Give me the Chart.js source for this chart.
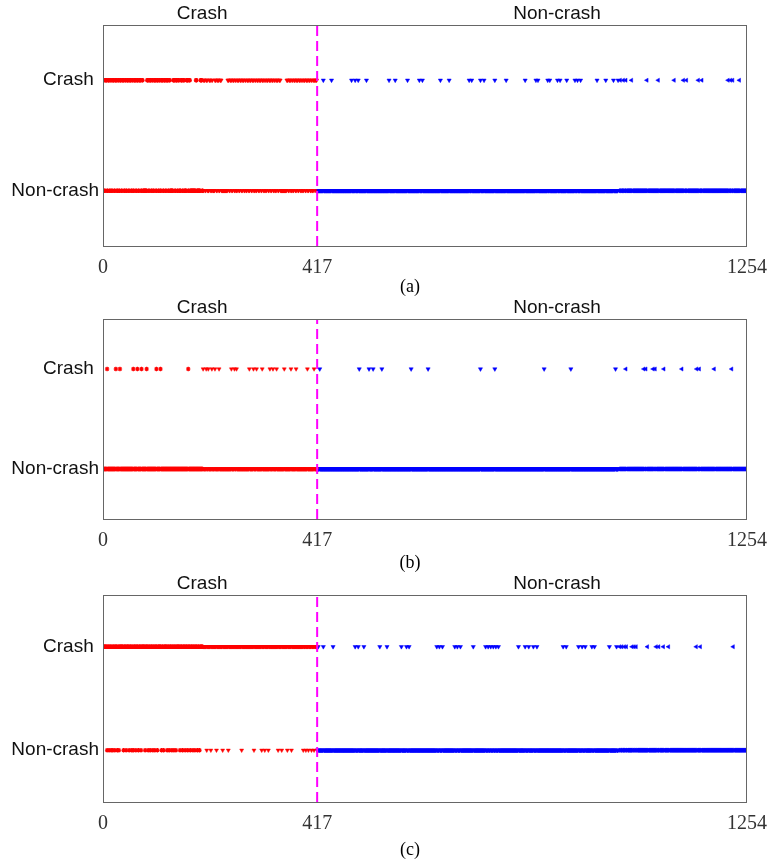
<!DOCTYPE html>
<html><head><meta charset="utf-8">
<script src="https://cdn.jsdelivr.net/npm/chart.js@4.4.0/dist/chart.umd.min.js"></script>
<style>
html,body{margin:0;padding:0;background:#fff;}
#wrap{position:relative;width:771px;height:864px;overflow:hidden;}
canvas{position:absolute;left:0;}
</style></head><body>
<div id="wrap">
<canvas id="c0" width="771" height="297" style="top:0px"></canvas>
<canvas id="c1" width="771" height="276" style="top:297px"></canvas>
<canvas id="c2" width="771" height="291" style="top:573px"></canvas>
</div>
<script>
// ---------------- data ----------------
const N_TOTAL = 1254;          // samples
const N_CRASH = 417;           // first 417 samples are true crashes
const RED_GROUP_SPLIT = 195;   // red '*' markers before, red 'v' after
const BLUE_GROUP_SPLIT = 1004; // blue 'v' markers before, blue '<' after
const xTickValues = [0, 417, 1254];
const yCategories = ['Non-crash', 'Crash ']; // y = 0, y = 1
const topLabels = ['Crash', 'Non-crash'];
const topLabelAt = [193, 884];
const captions = ['(a)', '(b)', '(c)'];

// (a) red samples predicted "Crash" as index runs [start, end]; other red samples -> "Non-crash"
const aRedCrashRuns = [
  [0,2],[5,7],[10,12],[15,16],[19,21],[24,26],[29,30],[33,35],[38,40],[43,44],[47,49],[52,54],
  [57,58],[61,63],[66,68],[71,73],[76,77],[86,88],[91,93],[96,97],[100,102],[105,107],[110,111],
  [114,116],[119,121],[124,126],[129,130],[137,139],[142,144],[147,148],[152,154],[157,158],
  [163,165],[168,169],[181,182],
  [190,192],[196,198],[201,203],[207,209],[212,213],[218,220],[223,225],[228,230],[243,245],
  [248,250],[253,255],[258,259],[262,264],[267,269],[272,274],[277,278],[281,283],[286,288],
  [291,293],[296,297],[300,302],[305,307],[310,312],[315,316],[319,321],[324,326],[329,331],
  [334,335],[338,340],[343,345],[358,360],[363,365],[368,369],[372,374],[377,379],[382,384],
  [387,388],[391,393],[396,398],[401,403],[406,407],[410,412],[414,416]
];
// (a) blue samples predicted "Crash"
const aBlueCrash = [429,445,484,491,497,513,557,569,593,616,622,657,674,713,718,735,742,763,785,
  822,843,847,866,870,885,890,903,919,924,930,962,979,994,1003,1007,1013,1018,1029,1059,1081,
  1112,1130,1136,1159,1166,1217,1222,1226,1239];

// (b) red samples predicted "Crash"
const bRedCrash = [8,25,33,59,67,75,85,104,112,166,195,201,205,212,218,226,250,256,260,285,293,
  299,310,325,331,338,353,366,376,398,411];
// (b) blue samples predicted "Crash"
const bBlueCrash = [422,499,518,526,543,600,633,735,763,859,911,998,1018,1053,1057,1071,1075,
  1092,1127,1156,1161,1190,1224];

// (c) red samples predicted "Non-crash"; other red samples -> "Crash"
const cRedNonCrash = [8,12,16,19,23,28,31,40,45,51,56,59,64,69,74,82,88,92,97,101,106,114,118,
  125,129,134,138,142,150,155,160,165,170,175,179,184,188,202,210,221,233,244,270,294,309,315,
  322,341,348,359,367,390,395,400,406,411];
// (c) blue samples predicted "Crash"
const cBlueCrash = [419,429,448,491,497,508,539,553,581,591,596,650,655,661,685,690,696,721,745,
  750,755,760,765,770,809,822,829,838,845,896,902,926,933,939,952,957,986,1000,1006,1010,1015,
  1019,1030,1034,1038,1060,1077,1082,1091,1101,1155,1163,1227];

// ---------------- build predictions ----------------
function predFromLists(redCrashIdx, redIsCrashByDefault, blueCrashIdx) {
  const redSet = new Set(redCrashIdx), blueSet = new Set(blueCrashIdx);
  const pred = [];
  for (let i = 0; i < N_TOTAL; i++) {
    if (i < N_CRASH) pred.push(redIsCrashByDefault ? (redSet.has(i) ? 0 : 1) : (redSet.has(i) ? 1 : 0));
    else pred.push(blueSet.has(i) ? 1 : 0);
  }
  return pred;
}
function expandRuns(runs) {
  const out = [];
  runs.forEach(([s, e]) => { for (let i = s; i <= e; i++) out.push(i); });
  return out;
}
const predictions = [
  predFromLists(expandRuns(aRedCrashRuns), false, aBlueCrash),
  predFromLists(bRedCrash, false, bBlueCrash),
  predFromLists(cRedNonCrash, true, cBlueCrash)
];

// ---------------- chart ----------------
const SANS = "'Liberation Sans', Arial, sans-serif";
const SERIF = "'Liberation Serif', 'Times New Roman', serif";
const RED = '#ff0000', BLUE = '#0000ff';

const panelLayout = [
  {top: 25, bottom: 51, capOffset: 41},
  {top: 22, bottom: 54, capOffset: 44},
  {top: 22, bottom: 62, capOffset: 48}
];

function makeDatasets(pred) {
  const redStar = [], redTri = [], blueTri = [], blueLeft = [];
  for (let i = 0; i < N_TOTAL; i++) {
    const p = {x: i, y: pred[i]};
    if (i < RED_GROUP_SPLIT) redStar.push(p);
    else if (i < N_CRASH) redTri.push(p);
    else if (i < BLUE_GROUP_SPLIT) blueTri.push(p);
    else blueLeft.push(p);
  }
  return [
    {type: 'line', data: [{x: N_CRASH, y: -0.5}, {x: N_CRASH, y: 1.5}], borderColor: '#ff00ff',
     borderWidth: 2, borderDash: [10, 5], pointRadius: 0, fill: false, showLine: true},
    {data: redStar, pointStyle: 'star', pointRadius: 2.2, pointBorderColor: RED,
     pointBackgroundColor: RED, pointBorderWidth: 1.2},
    {data: redTri, pointStyle: 'triangle', pointRotation: 180, pointRadius: 2.3,
     pointBackgroundColor: RED, pointBorderColor: RED, pointBorderWidth: 0.5},
    {data: blueTri, pointStyle: 'triangle', pointRotation: 180, pointRadius: 2.4,
     pointBackgroundColor: BLUE, pointBorderColor: BLUE, pointBorderWidth: 0.5},
    {data: blueLeft, pointStyle: 'triangle', pointRotation: 270, pointRadius: 2.4,
     pointBackgroundColor: BLUE, pointBorderColor: BLUE, pointBorderWidth: 0.5}
  ];
}

const decorPlugin = {
  id: 'decor',
  afterDraw(chart, args, opts) {
    const ctx = chart.ctx, a = chart.chartArea, xs = chart.scales.x;
    ctx.save();
    ctx.strokeStyle = '#666';
    ctx.lineWidth = 1;
    ctx.strokeRect(Math.round(a.left) + 0.5, Math.round(a.top) + 0.5,
                   Math.round(a.right - a.left) - 1, Math.round(a.bottom - a.top));
    ctx.fillStyle = '#111';
    ctx.font = '19px ' + SANS;
    ctx.textAlign = 'center';
    ctx.textBaseline = 'middle';
    topLabels.forEach((t, k) => ctx.fillText(t, xs.getPixelForValue(topLabelAt[k]), a.top - 11));
    ctx.font = '18px ' + SERIF;
    ctx.fillStyle = '#000';
    ctx.fillText(opts.caption, 410, a.bottom + opts.capOffset);
    ctx.restore();
  }
};

predictions.forEach((pred, k) => {
  const L = panelLayout[k];
  new Chart(document.getElementById('c' + k), {
    type: 'scatter',
    data: {datasets: makeDatasets(pred)},
    options: {
      responsive: false, animation: false, devicePixelRatio: 1, events: [],
      layout: {padding: {left: 0, right: 24, top: L.top, bottom: 0}},
      plugins: {legend: {display: false}, tooltip: {enabled: false},
                decor: {caption: captions[k], capOffset: L.capOffset}},
      scales: {
        x: {
          type: 'linear', min: 0, max: N_TOTAL,
          afterBuildTicks: s => { s.ticks = xTickValues.map(v => ({value: v})); },
          afterFit: s => { s.height = L.bottom; s.paddingLeft = 0; s.paddingRight = 0; },
          grid: {display: false, drawTicks: false}, border: {display: false},
          ticks: {font: {family: SERIF, size: 20}, color: '#333', padding: 10,
                  maxRotation: 0, autoSkip: false, callback: v => String(v)}
        },
        y: {
          type: 'linear', min: -0.5, max: 1.5,
          afterBuildTicks: s => { s.ticks = [{value: 0}, {value: 1}]; },
          afterFit: s => { s.width = 103; s.paddingTop = 0; s.paddingBottom = 0; },
          grid: {display: false, drawTicks: false}, border: {display: false},
          ticks: {font: {family: SANS, size: 19}, color: '#111', padding: 4,
                  callback: v => yCategories[v]}
        }
      }
    },
    plugins: [decorPlugin]
  });
});
</script>
</body></html>
